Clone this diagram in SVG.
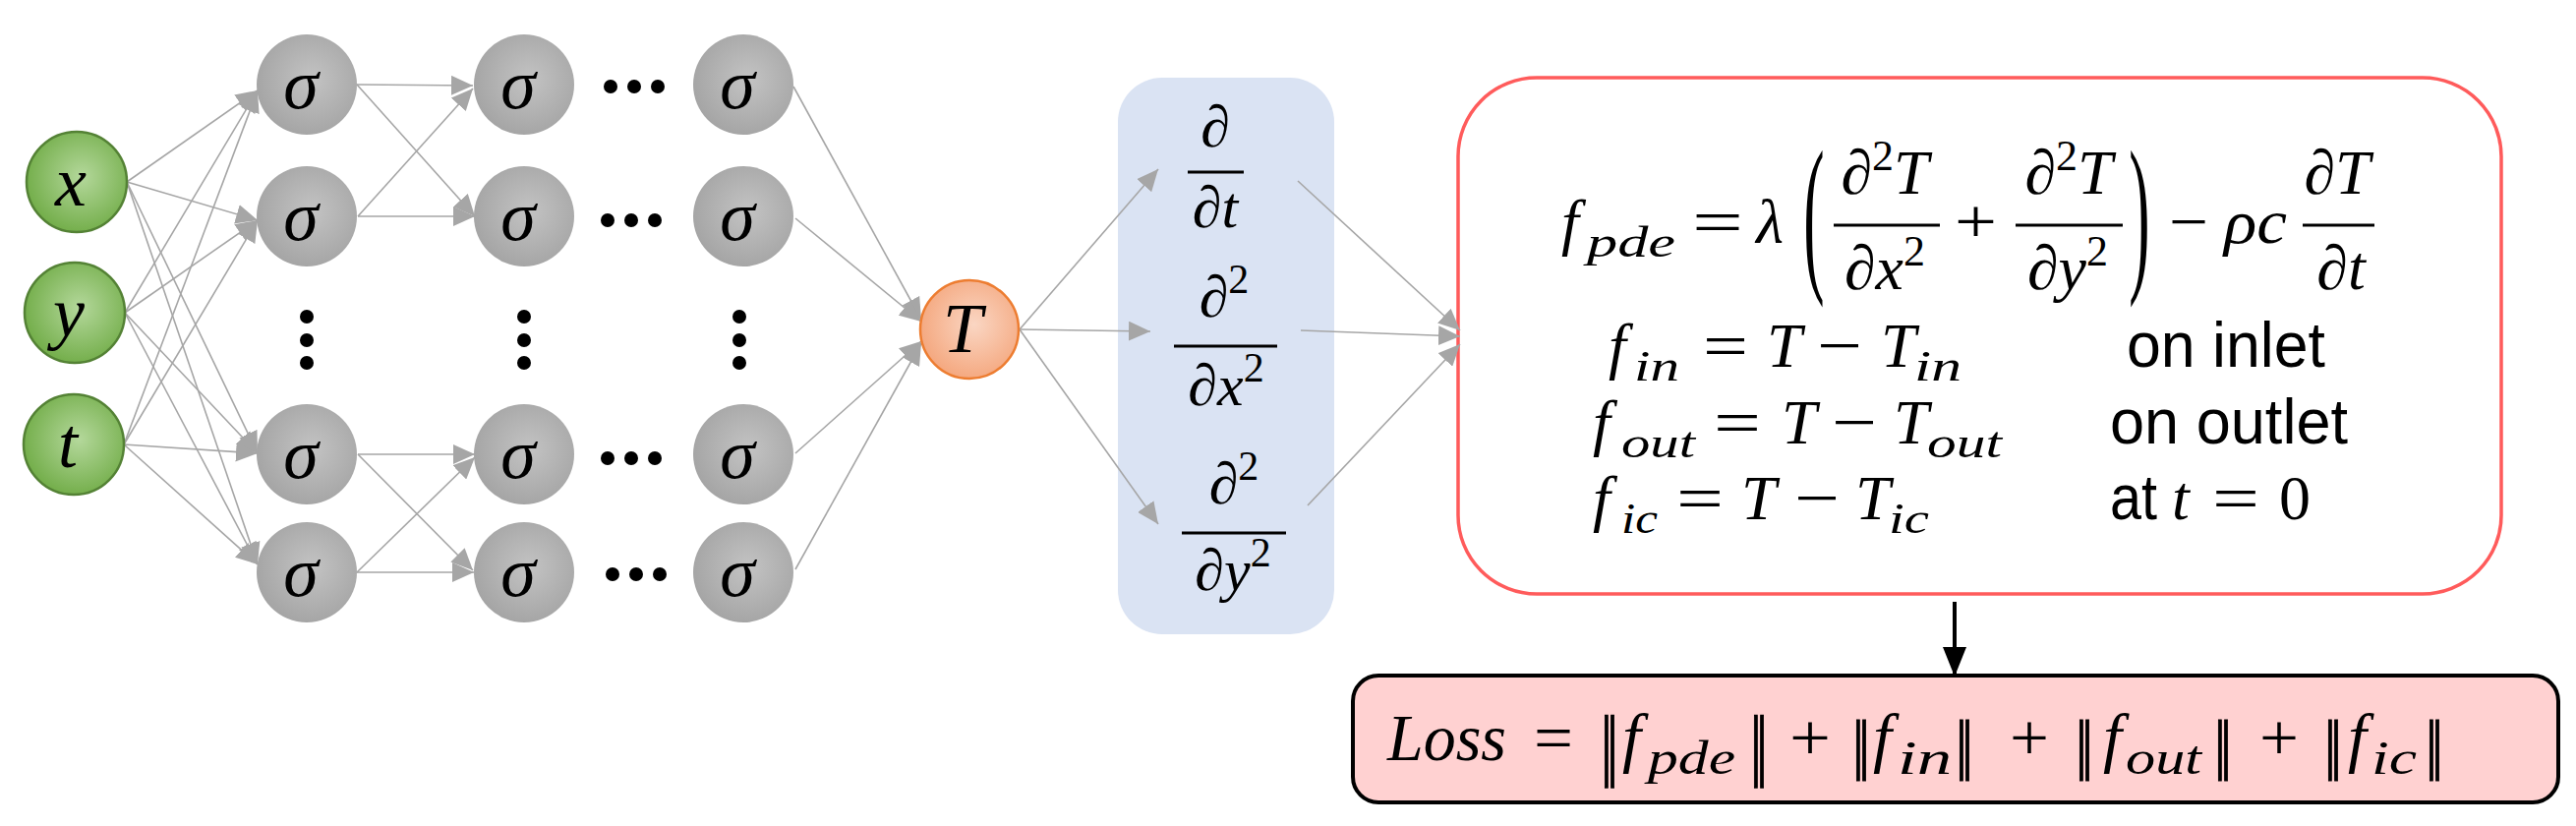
<svg xmlns="http://www.w3.org/2000/svg" width="2620" height="840" viewBox="0 0 2620 840">
<style>
.m{font-family:"Liberation Serif","DejaVu Serif",serif;font-style:italic;fill:#000}
.u{font-style:normal}
.s{font-family:"Liberation Sans",Arial,sans-serif;fill:#000}
.lbl{font-size:72px;text-anchor:middle}
.c{text-anchor:middle}
.e{stroke:#a6a6a6;stroke-width:1.6;fill:none;marker-end:url(#ag)}
.bar{stroke:#000;stroke-width:3}
.dot{fill:#000}
.gin{fill:url(#gG);stroke:#548235;stroke-width:2.5}
.ghid{fill:url(#gS)}
.gout{fill:url(#gO);stroke:#ed7d31;stroke-width:2.5}
.nb{stroke:#000;stroke-width:0.8}
</style>
<defs>
<radialGradient id="gG" cx="55%" cy="45%" r="60%"><stop offset="0" stop-color="#b4d89b"/><stop offset="1" stop-color="#6fab45"/></radialGradient>
<radialGradient id="gS" cx="55%" cy="45%" r="60%"><stop offset="0" stop-color="#c3c3c3"/><stop offset="1" stop-color="#a3a3a3"/></radialGradient>
<radialGradient id="gO" cx="55%" cy="45%" r="60%"><stop offset="0" stop-color="#fad6c3"/><stop offset="1" stop-color="#f4a57b"/></radialGradient>
<marker id="ag" markerUnits="userSpaceOnUse" markerWidth="22" markerHeight="20" refX="22" refY="10" orient="auto"><path d="M0,0 L22,10 L0,20 Z" fill="#a6a6a6"/></marker>
<marker id="ab" markerUnits="userSpaceOnUse" markerWidth="30" markerHeight="24" refX="30" refY="12" orient="auto"><path d="M0,0 L30,12 L0,24 Z" fill="#000"/></marker>
</defs>
<rect width="2620" height="840" fill="#fff"/>

<g id="derivatives">
<rect x="1137" y="79" width="220" height="566" rx="45" fill="#dae3f3"/>
<text class="m u c" font-size="60" x="1236" y="149">∂</text>
<line class="bar" x1="1208" y1="175" x2="1265" y2="175" stroke-width="4"/>
<text class="m c" font-size="60" x="1236" y="231"><tspan class="u">∂</tspan>t</text>
<text class="m u c" font-size="60" x="1245" y="322">∂<tspan font-size="42" dy="-24">2</tspan></text>
<line class="bar" x1="1194" y1="352" x2="1299" y2="352" stroke-width="4"/>
<text class="m c" font-size="60" x="1247" y="412"><tspan class="u">∂</tspan>x<tspan class="u" font-size="42" dy="-24">2</tspan></text>
<text class="m u c" font-size="60" x="1255" y="512">∂<tspan font-size="42" dy="-24">2</tspan></text>
<line class="bar" x1="1202" y1="542" x2="1308" y2="542" stroke-width="4"/>
<text class="m c" font-size="60" x="1254" y="600"><tspan class="u">∂</tspan>y<tspan class="u" font-size="42" dy="-24">2</tspan></text>
</g>

<g id="residuals">
<rect x="1483" y="79" width="1061" height="525" rx="80" fill="#fff" stroke="#ff5b5b" stroke-width="3.5"/>
<text class="m" font-size="64" x="1588" y="247">f</text>
<text class="m" font-size="44" x="1614" y="261" textLength="90" lengthAdjust="spacingAndGlyphs">pde</text>
<text class="m u" font-size="64" x="1721" y="247" textLength="52" lengthAdjust="spacingAndGlyphs">=</text>
<text class="m c" font-size="64" x="1800" y="247">λ</text>
<text class="m u c" font-size="64" transform="translate(1845,275) scale(1,2.75)">(</text>
<text class="m c" font-size="64" x="1917" y="197"><tspan class="u">∂</tspan><tspan class="u" font-size="44" dy="-24">2</tspan><tspan dy="24">T</tspan></text>
<line class="bar" x1="1865" y1="229" x2="1973" y2="229"/>
<text class="m c" font-size="64" x="1917" y="294"><tspan class="u">∂</tspan>x<tspan class="u" font-size="44" dy="-24">2</tspan></text>
<text class="m u" font-size="64" x="1988" y="247" textLength="43" lengthAdjust="spacingAndGlyphs">+</text>
<text class="m c" font-size="64" x="2104" y="197"><tspan class="u">∂</tspan><tspan class="u" font-size="44" dy="-24">2</tspan><tspan dy="24">T</tspan></text>
<line class="bar" x1="2050" y1="229" x2="2159" y2="229"/>
<text class="m c" font-size="64" x="2103" y="294"><tspan class="u">∂</tspan>y<tspan class="u" font-size="44" dy="-24">2</tspan></text>
<text class="m u c" font-size="64" transform="translate(2176,275) scale(1,2.75)">)</text>
<text class="m u" font-size="64" x="2206" y="247" textLength="40" lengthAdjust="spacingAndGlyphs">−</text>
<text class="m" font-size="64" x="2262" y="247" textLength="64" lengthAdjust="spacingAndGlyphs">ρc</text>
<text class="m c" font-size="64" x="2377" y="197"><tspan class="u">∂</tspan>T</text>
<line class="bar" x1="2342" y1="229" x2="2415" y2="229"/>
<text class="m c" font-size="64" x="2381" y="294"><tspan class="u">∂</tspan>t</text>

<text class="m" font-size="64" x="1636" y="373">f</text>
<text class="m" font-size="44" x="1662" y="387" textLength="46" lengthAdjust="spacingAndGlyphs">in</text>
<text class="m u" font-size="64" x="1732" y="373" textLength="46" lengthAdjust="spacingAndGlyphs">=</text>
<text class="m" font-size="64" x="1797" y="373">T</text>
<text class="m u" font-size="64" x="1848" y="373" textLength="46" lengthAdjust="spacingAndGlyphs">−</text>
<text class="m" font-size="64" x="1913" y="373">T</text>
<text class="m" font-size="44" x="1947" y="387" textLength="48" lengthAdjust="spacingAndGlyphs">in</text>
<text class="s" font-size="64" x="2163" y="373" textLength="202" lengthAdjust="spacingAndGlyphs">on inlet</text>

<text class="m" font-size="64" x="1620" y="451">f</text>
<text class="m" font-size="44" x="1649" y="465" textLength="75" lengthAdjust="spacingAndGlyphs">out</text>
<text class="m u" font-size="64" x="1743" y="451" textLength="48" lengthAdjust="spacingAndGlyphs">=</text>
<text class="m" font-size="64" x="1812" y="451">T</text>
<text class="m u" font-size="64" x="1863" y="451" textLength="46" lengthAdjust="spacingAndGlyphs">−</text>
<text class="m" font-size="64" x="1926" y="451">T</text>
<text class="m" font-size="44" x="1960" y="465" textLength="76" lengthAdjust="spacingAndGlyphs">out</text>
<text class="s" font-size="64" x="2146" y="451" textLength="242" lengthAdjust="spacingAndGlyphs">on outlet</text>

<text class="m" font-size="64" x="1620" y="528">f</text>
<text class="m" font-size="44" x="1649" y="542" textLength="37" lengthAdjust="spacingAndGlyphs">ic</text>
<text class="m u" font-size="64" x="1705" y="528" textLength="48" lengthAdjust="spacingAndGlyphs">=</text>
<text class="m" font-size="64" x="1771" y="528">T</text>
<text class="m u" font-size="64" x="1825" y="528" textLength="46" lengthAdjust="spacingAndGlyphs">−</text>
<text class="m" font-size="64" x="1887" y="528">T</text>
<text class="m" font-size="44" x="1921" y="542" textLength="41" lengthAdjust="spacingAndGlyphs">ic</text>
<text class="s" font-size="64" x="2146" y="528" textLength="48" lengthAdjust="spacingAndGlyphs">at</text>
<text class="m" font-size="64" x="2209" y="528">t</text>
<text class="m u" font-size="64" x="2250" y="528" textLength="48" lengthAdjust="spacingAndGlyphs">=</text>
<text class="m u" font-size="64" x="2318" y="528">0</text>
</g>

<g id="loss">
<rect x="1376" y="687" width="1226" height="129" rx="26" fill="#ffd1d1" stroke="#000" stroke-width="4"/>
<text class="m" font-size="68" x="1411" y="773" textLength="121" lengthAdjust="spacingAndGlyphs">Loss</text>
<text class="m u" font-size="68" x="1560" y="773" textLength="40" lengthAdjust="spacingAndGlyphs">=</text>
<text class="m u c nb" font-size="62" transform="translate(1637,801) scale(1,1.71)">‖</text>
<text class="m" font-size="68" x="1650" y="773">f</text>
<text class="m" font-size="48" x="1676" y="787" textLength="89" lengthAdjust="spacingAndGlyphs">pde</text>
<text class="m u c nb" font-size="62" transform="translate(1789,801) scale(1,1.71)">‖</text>
<text class="m u" font-size="68" x="1820" y="773" textLength="42" lengthAdjust="spacingAndGlyphs">+</text>
<text class="m u c nb" font-size="62" transform="translate(1893,794) scale(1,1.42)">‖</text>
<text class="m" font-size="68" x="1905" y="773">f</text>
<text class="m" font-size="48" x="1930" y="787" textLength="55" lengthAdjust="spacingAndGlyphs">in</text>
<text class="m u c nb" font-size="62" transform="translate(1998,794) scale(1,1.42)">‖</text>
<text class="m u" font-size="68" x="2044" y="773" textLength="40" lengthAdjust="spacingAndGlyphs">+</text>
<text class="m u c nb" font-size="62" transform="translate(2120,794) scale(1,1.42)">‖</text>
<text class="m" font-size="68" x="2139" y="773">f</text>
<text class="m" font-size="48" x="2162" y="787" textLength="77" lengthAdjust="spacingAndGlyphs">out</text>
<text class="m u c nb" font-size="62" transform="translate(2261,794) scale(1,1.42)">‖</text>
<text class="m u" font-size="68" x="2298" y="773" textLength="40" lengthAdjust="spacingAndGlyphs">+</text>
<text class="m u c nb" font-size="62" transform="translate(2373,794) scale(1,1.42)">‖</text>
<text class="m" font-size="68" x="2388" y="773">f</text>
<text class="m" font-size="48" x="2412" y="787" textLength="46" lengthAdjust="spacingAndGlyphs">ic</text>
<text class="m u c nb" font-size="62" transform="translate(2476,794) scale(1,1.42)">‖</text>
</g>

<g id="connectors">
<line class="e" x1="129" y1="185" x2="262" y2="92"/>
<line class="e" x1="129" y1="185" x2="262" y2="224"/>
<line class="e" x1="129" y1="185" x2="262" y2="461"/>
<line class="e" x1="129" y1="185" x2="262" y2="574"/>
<line class="e" x1="127" y1="318" x2="262" y2="92"/>
<line class="e" x1="127" y1="318" x2="262" y2="224"/>
<line class="e" x1="127" y1="318" x2="262" y2="461"/>
<line class="e" x1="127" y1="318" x2="262" y2="574"/>
<line class="e" x1="126" y1="452" x2="262" y2="92"/>
<line class="e" x1="126" y1="452" x2="262" y2="224"/>
<line class="e" x1="126" y1="452" x2="262" y2="461"/>
<line class="e" x1="126" y1="452" x2="262" y2="574"/>
<line class="e" x1="363" y1="86" x2="481" y2="87"/>
<line class="e" x1="363" y1="86" x2="483" y2="220"/>
<line class="e" x1="364" y1="220" x2="481" y2="90"/>
<line class="e" x1="364" y1="220" x2="483" y2="220"/>
<line class="e" x1="364" y1="462" x2="483" y2="462"/>
<line class="e" x1="364" y1="462" x2="481" y2="580"/>
<line class="e" x1="363" y1="582" x2="483" y2="465"/>
<line class="e" x1="363" y1="582" x2="482" y2="582"/>
<line class="e" x1="807" y1="88" x2="937" y2="325"/>
<line class="e" x1="809" y1="222" x2="937" y2="327"/>
<line class="e" x1="809" y1="461" x2="937" y2="347"/>
<line class="e" x1="809" y1="579" x2="937" y2="349"/>
<line class="e" x1="1037" y1="335" x2="1178" y2="172"/>
<line class="e" x1="1037" y1="335" x2="1170" y2="337"/>
<line class="e" x1="1037" y1="335" x2="1178" y2="533"/>
<line class="e" x1="1320" y1="184" x2="1485" y2="336"/>
<line class="e" x1="1323" y1="336" x2="1485" y2="342"/>
<line class="e" x1="1330" y1="514" x2="1485" y2="350"/>
<line x1="1988" y1="612" x2="1988" y2="688" stroke="#000" stroke-width="4" marker-end="url(#ab)"/>
</g>

<g id="in-x"><circle class="gin" cx="78" cy="185" r="51"/><text class="m lbl" x="72" y="209">x</text></g>
<g id="in-y"><circle class="gin" cx="76" cy="318" r="51"/><text class="m lbl" x="70" y="342">y</text></g>
<g id="in-t"><circle class="gin" cx="75" cy="452" r="51"/><text class="m lbl" x="69" y="475">t</text></g>

<g id="h1-1"><circle class="ghid" cx="312" cy="86" r="51"/><text class="m lbl" x="306" y="110">σ</text></g>
<g id="h1-2"><circle class="ghid" cx="312" cy="220" r="51"/><text class="m lbl" x="306" y="244">σ</text></g>
<g id="h1-3"><circle class="ghid" cx="312" cy="462" r="51"/><text class="m lbl" x="306" y="486">σ</text></g>
<g id="h1-4"><circle class="ghid" cx="312" cy="582" r="51"/><text class="m lbl" x="306" y="606">σ</text></g>
<g id="h2-1"><circle class="ghid" cx="533" cy="86" r="51"/><text class="m lbl" x="527" y="110">σ</text></g>
<g id="h2-2"><circle class="ghid" cx="533" cy="220" r="51"/><text class="m lbl" x="527" y="244">σ</text></g>
<g id="h2-3"><circle class="ghid" cx="533" cy="462" r="51"/><text class="m lbl" x="527" y="486">σ</text></g>
<g id="h2-4"><circle class="ghid" cx="533" cy="582" r="51"/><text class="m lbl" x="527" y="606">σ</text></g>
<g id="h3-1"><circle class="ghid" cx="756" cy="86" r="51"/><text class="m lbl" x="750" y="110">σ</text></g>
<g id="h3-2"><circle class="ghid" cx="756" cy="220" r="51"/><text class="m lbl" x="750" y="244">σ</text></g>
<g id="h3-3"><circle class="ghid" cx="756" cy="462" r="51"/><text class="m lbl" x="750" y="486">σ</text></g>
<g id="h3-4"><circle class="ghid" cx="756" cy="582" r="51"/><text class="m lbl" x="750" y="606">σ</text></g>

<g id="ellipses">
<circle class="dot" cx="621" cy="88" r="7"/><circle class="dot" cx="645" cy="88" r="7"/><circle class="dot" cx="669" cy="88" r="7"/>
<circle class="dot" cx="618" cy="224" r="7"/><circle class="dot" cx="642" cy="224" r="7"/><circle class="dot" cx="666" cy="224" r="7"/>
<circle class="dot" cx="618" cy="466" r="7"/><circle class="dot" cx="642" cy="466" r="7"/><circle class="dot" cx="666" cy="466" r="7"/>
<circle class="dot" cx="623" cy="584" r="7"/><circle class="dot" cx="647" cy="584" r="7"/><circle class="dot" cx="671" cy="584" r="7"/>
<circle class="dot" cx="312" cy="322" r="7"/><circle class="dot" cx="312" cy="346" r="7"/><circle class="dot" cx="312" cy="369" r="7"/>
<circle class="dot" cx="533" cy="322" r="7"/><circle class="dot" cx="533" cy="346" r="7"/><circle class="dot" cx="533" cy="369" r="7"/>
<circle class="dot" cx="752" cy="322" r="7"/><circle class="dot" cx="752" cy="346" r="7"/><circle class="dot" cx="752" cy="369" r="7"/>
</g>

<g id="out-T"><circle class="gout" cx="986" cy="335" r="50"/><text class="m lbl" x="979" y="358">T</text></g>
</svg>
